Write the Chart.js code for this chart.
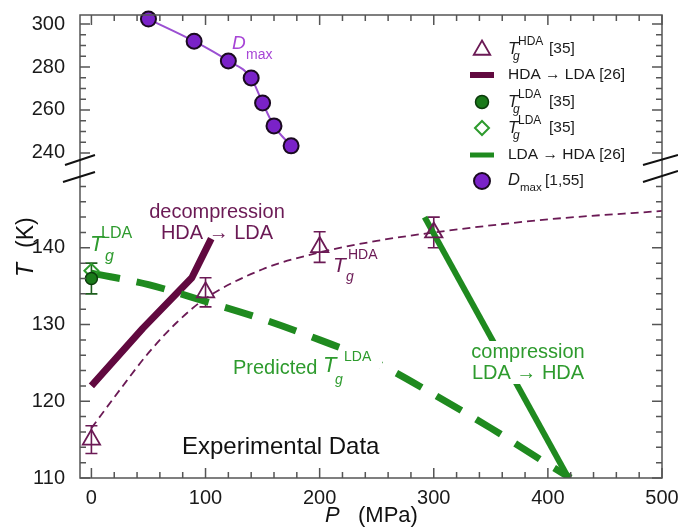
<!DOCTYPE html>
<html>
<head>
<meta charset="utf-8">
<script src="https://cdn.jsdelivr.net/npm/chart.js@4.4.1/dist/chart.umd.min.js"></script>
<style>
html, body { margin: 0; padding: 0; background: #fff; }
#wrap { width: 678px; height: 527px; }
</style>
</head>
<body>
<div id="wrap"><canvas id="myChart"></canvas></div>
<script>
// values: P in MPa, T in K
let dmaxP = [50, 90, 120, 140, 150, 160, 175]
let dmaxT = [302.3, 292, 282.8, 274.9, 263.3, 252.6, 243.3]

let hdaExpP = [0, 100, 200, 300]
let hdaExpT = [115, 134.2, 140.1, 142]
let hdaExpErr = [1.8, 1.9, 2, 2]

let hdaFitP = [0, 25, 50, 75, 100, 150, 200, 250, 300, 400, 500]
let hdaFitT = [116.5, 121.5, 126.3, 130.3, 133.4, 137.2, 139.4, 140.9, 142.0, 143.7, 144.8]

let decompP = [0, 45, 88, 105]
let decompT = [122, 129.5, 136.1, 141.2]

let ldaCircleP = [0]
let ldaCircleT = [136]
let ldaCircleErr = [2]
let ldaDiamondP = [0]
let ldaDiamondT = [137]

let predP = [0, 50, 100, 150, 200, 250, 300, 350, 400, 420]
let predT = [136.7, 135.2, 133.0, 130.7, 128.0, 125.0, 120.9, 116.5, 111.8, 110]

let compP = [292, 418]
let compT = [144, 110]

let xTicks = [0, 100, 200, 300, 400, 500]
let yTicksLow = [110, 120, 130, 140]
let yTicksHigh = [240, 260, 280, 300]

const FONT = "'Liberation Sans', Arial, Helvetica, sans-serif"
const maroon = '#6b1a55'
const maroonDark = '#61093f'
const green = '#1f8a1f'
const greenText = '#2e9b2e'
const violet = '#7a22c8'
const violetLine = '#9b4fd2'
const violetText = '#a745d6'
const axisColor = '#555'

function pts(xs, ys) {
    return xs.map((x, i) => ({ x: x, y: ys[i] }))
}

function f(size, italic) {
    return (italic ? 'italic ' : '') + size + 'px ' + FONT
}

function txt(ctx, s, x, y, font, color, align) {
    ctx.font = font
    ctx.fillStyle = color
    ctx.textAlign = align || 'left'
    ctx.textBaseline = 'middle'
    ctx.fillText(s, x, y)
    return x + ctx.measureText(s).width
}

// T with a superscript and subscript g
function tg(ctx, x, y, sup, o) {
    const e0 = txt(ctx, 'T', x, y, f(o.T, true), o.c)
    const e1 = txt(ctx, sup, x + o.supX, y + o.supDy, f(o.s), o.c)
    const e2 = txt(ctx, 'g', x + o.gX, y + o.gDy, f(o.s, true), o.c)
    return Math.max(e0, e1, e2)
}

function errBars(ctx, xs, ys, P, T, E, color) {
    ctx.strokeStyle = color
    ctx.lineWidth = 1.6
    ctx.beginPath()
    P.forEach((p, i) => {
        const x = xs.getPixelForValue(p)
        const y1 = ys.getPixelForValue(T[i] - E[i])
        const y2 = ys.getPixelForValue(T[i] + E[i])
        ctx.moveTo(x, y1); ctx.lineTo(x, y2)
        ctx.moveTo(x - 6, y1); ctx.lineTo(x + 6, y1)
        ctx.moveTo(x - 6, y2); ctx.lineTo(x + 6, y2)
    })
    ctx.stroke()
}

const deco = {
    id: 'deco',
    beforeDatasetsDraw(chart) {
        const ctx = chart.ctx
        const xs = chart.scales.x, yl = chart.scales.y
        ctx.save()
        errBars(ctx, xs, yl, hdaExpP, hdaExpT, hdaExpErr, maroon)
        errBars(ctx, xs, yl, ldaCircleP, ldaCircleT, ldaCircleErr, '#1d5e1d')
        ctx.restore()
    },
    afterDatasetsDraw(chart) {
        const ctx = chart.ctx
        const a = chart.chartArea
        const xs = chart.scales.x, yl = chart.scales.y, yu = chart.scales.yu
        ctx.save()

        // frame and inward ticks
        ctx.strokeStyle = axisColor
        ctx.lineWidth = 1.5
        ctx.beginPath()
        for (let v = 0; v <= 500; v += 20) {
            const px = xs.getPixelForValue(v)
            const len = v % 100 === 0 ? 10 : 6
            ctx.moveTo(px, a.bottom); ctx.lineTo(px, a.bottom - len)
            ctx.moveTo(px, a.top); ctx.lineTo(px, a.top + len)
        }
        for (let v = 110; v <= 148; v += 2) {
            const py = yl.getPixelForValue(v)
            const len = v % 10 === 0 ? 10 : 6
            ctx.moveTo(a.left, py); ctx.lineTo(a.left + len, py)
            ctx.moveTo(a.right, py); ctx.lineTo(a.right - len, py)
        }
        for (let v = 240; v <= 300; v += 5) {
            const py = yu.getPixelForValue(v)
            const len = v % 20 === 0 ? 10 : 6
            ctx.moveTo(a.left, py); ctx.lineTo(a.left + len, py)
            ctx.moveTo(a.right, py); ctx.lineTo(a.right - len, py)
        }
        ctx.stroke()
        ctx.strokeRect(a.left, a.top, a.right - a.left, a.bottom - a.top)

        // axis break marks
        const b = yu.bottom
        ctx.strokeStyle = '#111'
        ctx.lineWidth = 2
        ctx.beginPath()
        ctx.moveTo(a.left - 15, b - 3); ctx.lineTo(a.left + 15, b - 13)
        ctx.moveTo(a.left - 17, b + 14); ctx.lineTo(a.left + 15, b + 4)
        ctx.moveTo(a.right - 19, b - 3); ctx.lineTo(a.right + 16, b - 13)
        ctx.moveTo(a.right - 19, b + 14); ctx.lineTo(a.right + 16, b + 3)
        ctx.stroke()

        // annotations
        txt(ctx, 'D', 232, 44, f(19, true), violetText)
        txt(ctx, 'max', 246, 55, f(14), violetText)

        txt(ctx, 'decompression', 217, 212, f(20), maroon, 'center')
        txt(ctx, 'HDA \u2192 LDA', 217, 233, f(20), maroon, 'center')

        tg(ctx, 90, 245, 'LDA', { T: 22, s: 16, c: greenText, supX: 11, supDy: -11, gX: 15, gDy: 12 })
        tg(ctx, 333, 266, 'HDA', { T: 21, s: 14, c: maroon, supX: 15, supDy: -11, gX: 13, gDy: 11 })

        ctx.fillStyle = '#fff'
        ctx.fillRect(340, 350, 42, 18)
        txt(ctx, 'Predicted', 233, 368, f(20), greenText)
        tg(ctx, 323, 366, 'LDA', { T: 22, s: 14, c: greenText, supX: 21, supDy: -9, gX: 12, gDy: 14 })

        ctx.fillStyle = '#fff'
        ctx.fillRect(470, 341, 118, 43)
        txt(ctx, 'compression', 528, 352, f(20), greenText, 'center')
        txt(ctx, 'LDA \u2192 HDA', 528, 373, f(20), greenText, 'center')

        txt(ctx, 'Experimental Data', 182, 447, f(24), '#111')
        ctx.restore()
    },
    afterDraw(chart) {
        const ctx = chart.ctx
        ctx.save()

        // axis titles
        txt(ctx, 'P', 325, 516, f(22, true), '#111')
        txt(ctx, '(MPa)', 358, 516, f(22), '#111')
        ctx.translate(27, 250)
        ctx.rotate(-Math.PI / 2)
        txt(ctx, 'T', -27, 0, f(23, true), '#111')
        txt(ctx, '(K)', 2, 0, f(23), '#111')
        ctx.setTransform(1, 0, 0, 1, 0, 0)

        // legend
        const sx = 482, tx = 508
        const rows = [49, 75, 102, 128, 155, 181]
        const dark = '#1a1a1a'
        const leg = { T: 16.5, s: 12, c: dark, supX: 10, supDy: -7, gX: 5, gDy: 8 }
        const dp = Chart.helpers.drawPoint

        ctx.lineWidth = 1.8
        ctx.strokeStyle = maroon
        ctx.fillStyle = 'rgba(0,0,0,0)'
        dp(ctx, { pointStyle: 'triangle', radius: 9.5, borderWidth: 1.8, rotation: 0 }, sx, rows[0] + 1)
        tg(ctx, tx, rows[0], 'HDA', leg)
        txt(ctx, '[35]', 549, rows[0], f(15.5), dark)

        ctx.strokeStyle = maroonDark
        ctx.lineWidth = 6
        ctx.beginPath(); ctx.moveTo(470, rows[1]); ctx.lineTo(494, rows[1]); ctx.stroke()
        txt(ctx, 'HDA \u2192 LDA [26]', tx, rows[1], f(15.5), dark)

        ctx.lineWidth = 1.5
        ctx.strokeStyle = '#0b3b0b'
        ctx.fillStyle = '#1a7a1a'
        dp(ctx, { pointStyle: 'circle', radius: 6.5, borderWidth: 1.5, rotation: 0 }, sx, rows[2])
        tg(ctx, tx, rows[2], 'LDA', leg)
        txt(ctx, '[35]', 549, rows[2], f(15.5), dark)

        ctx.lineWidth = 2
        ctx.strokeStyle = greenText
        ctx.fillStyle = 'rgba(0,0,0,0)'
        dp(ctx, { pointStyle: 'rectRot', radius: 7, borderWidth: 2, rotation: 0 }, sx, rows[3])
        tg(ctx, tx, rows[3], 'LDA', leg)
        txt(ctx, '[35]', 549, rows[3], f(15.5), dark)

        ctx.strokeStyle = green
        ctx.lineWidth = 5
        ctx.beginPath(); ctx.moveTo(470, rows[4]); ctx.lineTo(494, rows[4]); ctx.stroke()
        txt(ctx, 'LDA \u2192 HDA [26]', tx, rows[4], f(15.5), dark)

        ctx.lineWidth = 2
        ctx.strokeStyle = '#1a0a20'
        ctx.fillStyle = violet
        dp(ctx, { pointStyle: 'circle', radius: 8, borderWidth: 2, rotation: 0 }, sx, rows[5])
        txt(ctx, 'D', tx, rows[5] - 1, f(16.5, true), dark)
        txt(ctx, 'max', 520, rows[5] + 7, f(11.5), dark)
        txt(ctx, '[1,55]', 545, rows[5], f(15.5), dark)

        ctx.restore()
    }
}

const tickFont = { family: FONT, size: 20 }

const data = {
    datasets: [
        {
            label: 'LDA circle',
            data: pts(ldaCircleP, ldaCircleT),
            yAxisID: 'y',
            showLine: false,
            pointStyle: 'circle',
            pointRadius: 6,
            pointBackgroundColor: '#1a7a1a',
            pointBorderColor: '#0b3b0b',
            pointBorderWidth: 1.5,
        },
        {
            label: 'LDA diamond',
            data: pts(ldaDiamondP, ldaDiamondT),
            yAxisID: 'y',
            showLine: false,
            pointStyle: 'rectRot',
            pointRadius: 7,
            pointBackgroundColor: 'rgba(0,0,0,0)',
            pointBorderColor: greenText,
            pointBorderWidth: 2,
        },
        {
            label: 'Tg HDA',
            data: pts(hdaExpP, hdaExpT),
            yAxisID: 'y',
            showLine: false,
            pointStyle: 'triangle',
            pointRadius: 10,
            pointBackgroundColor: 'rgba(0,0,0,0)',
            pointBorderColor: maroon,
            pointBorderWidth: 1.8,
        },
        {
            label: 'Dmax',
            data: pts(dmaxP, dmaxT),
            yAxisID: 'yu',
            showLine: true,
            clip: false,
            borderColor: violetLine,
            borderWidth: 2,
            cubicInterpolationMode: 'monotone',
            pointRadius: 7.5,
            pointBackgroundColor: violet,
            pointBorderColor: '#1a0a20',
            pointBorderWidth: 2,
        },
        {
            label: 'compression',
            data: pts(compP, compT),
            yAxisID: 'y',
            showLine: true,
            borderColor: green,
            borderWidth: 6,
            pointRadius: 0,
        },
        {
            label: 'predicted',
            data: pts(predP, predT),
            yAxisID: 'y',
            showLine: true,
            borderColor: green,
            borderWidth: 7,
            borderDash: [29, 17],
            cubicInterpolationMode: 'monotone',
            pointRadius: 0,
        },
        {
            label: 'decompression',
            data: pts(decompP, decompT),
            yAxisID: 'y',
            showLine: true,
            borderColor: maroonDark,
            borderWidth: 7,
            borderJoinStyle: 'round',
            pointRadius: 0,
        },
        {
            label: 'HDA fit',
            data: pts(hdaFitP, hdaFitT),
            yAxisID: 'y',
            showLine: true,
            borderColor: maroon,
            borderWidth: 1.8,
            borderDash: [8, 5],
            cubicInterpolationMode: 'monotone',
            pointRadius: 0,
        },
    ],
}

const config = {
    type: 'scatter',
    data,
    options: {
        responsive: true,
        maintainAspectRatio: false,
        animation: false,
        events: [],
        layout: { padding: { top: 15, right: 16, left: 0, bottom: 0 } },
        plugins: {
            legend: { display: false },
            tooltip: { enabled: false },
        },
        scales: {
            x: {
                type: 'linear',
                min: -10,
                max: 500,
                afterBuildTicks: (s) => { s.ticks = xTicks.map((v) => ({ value: v })) },
                afterFit: (s) => { s.height = 49; s.paddingLeft = 0; s.paddingRight = 0 },
                grid: { display: false },
                border: { display: false },
                ticks: { font: tickFont, color: '#1a1a1a', padding: 0, maxRotation: 0, autoSkip: false },
            },
            y: {
                type: 'linear',
                position: 'left',
                stack: 'temp',
                stackWeight: 310,
                min: 110,
                max: 150.4,
                afterBuildTicks: (s) => { s.ticks = yTicksLow.map((v) => ({ value: v })) },
                afterFit: (s) => { s.width = 80; s.paddingTop = 0; s.paddingBottom = 0 },
                grid: { display: false },
                border: { display: false },
                ticks: { font: tickFont, color: '#1a1a1a', padding: 7, autoSkip: false },
            },
            yu: {
                type: 'linear',
                position: 'left',
                stack: 'temp',
                stackWeight: 153,
                min: 233,
                max: 304.2,
                afterBuildTicks: (s) => { s.ticks = yTicksHigh.map((v) => ({ value: v })) },
                afterFit: (s) => { s.width = 80; s.paddingTop = 0; s.paddingBottom = 0 },
                grid: { display: false },
                border: { display: false },
                ticks: { font: tickFont, color: '#1a1a1a', padding: 7, autoSkip: false },
            },
        },
    },
    plugins: [deco],
}

const myChart = new Chart(document.getElementById('myChart').getContext('2d'), config)
</script>
</body>
</html>
